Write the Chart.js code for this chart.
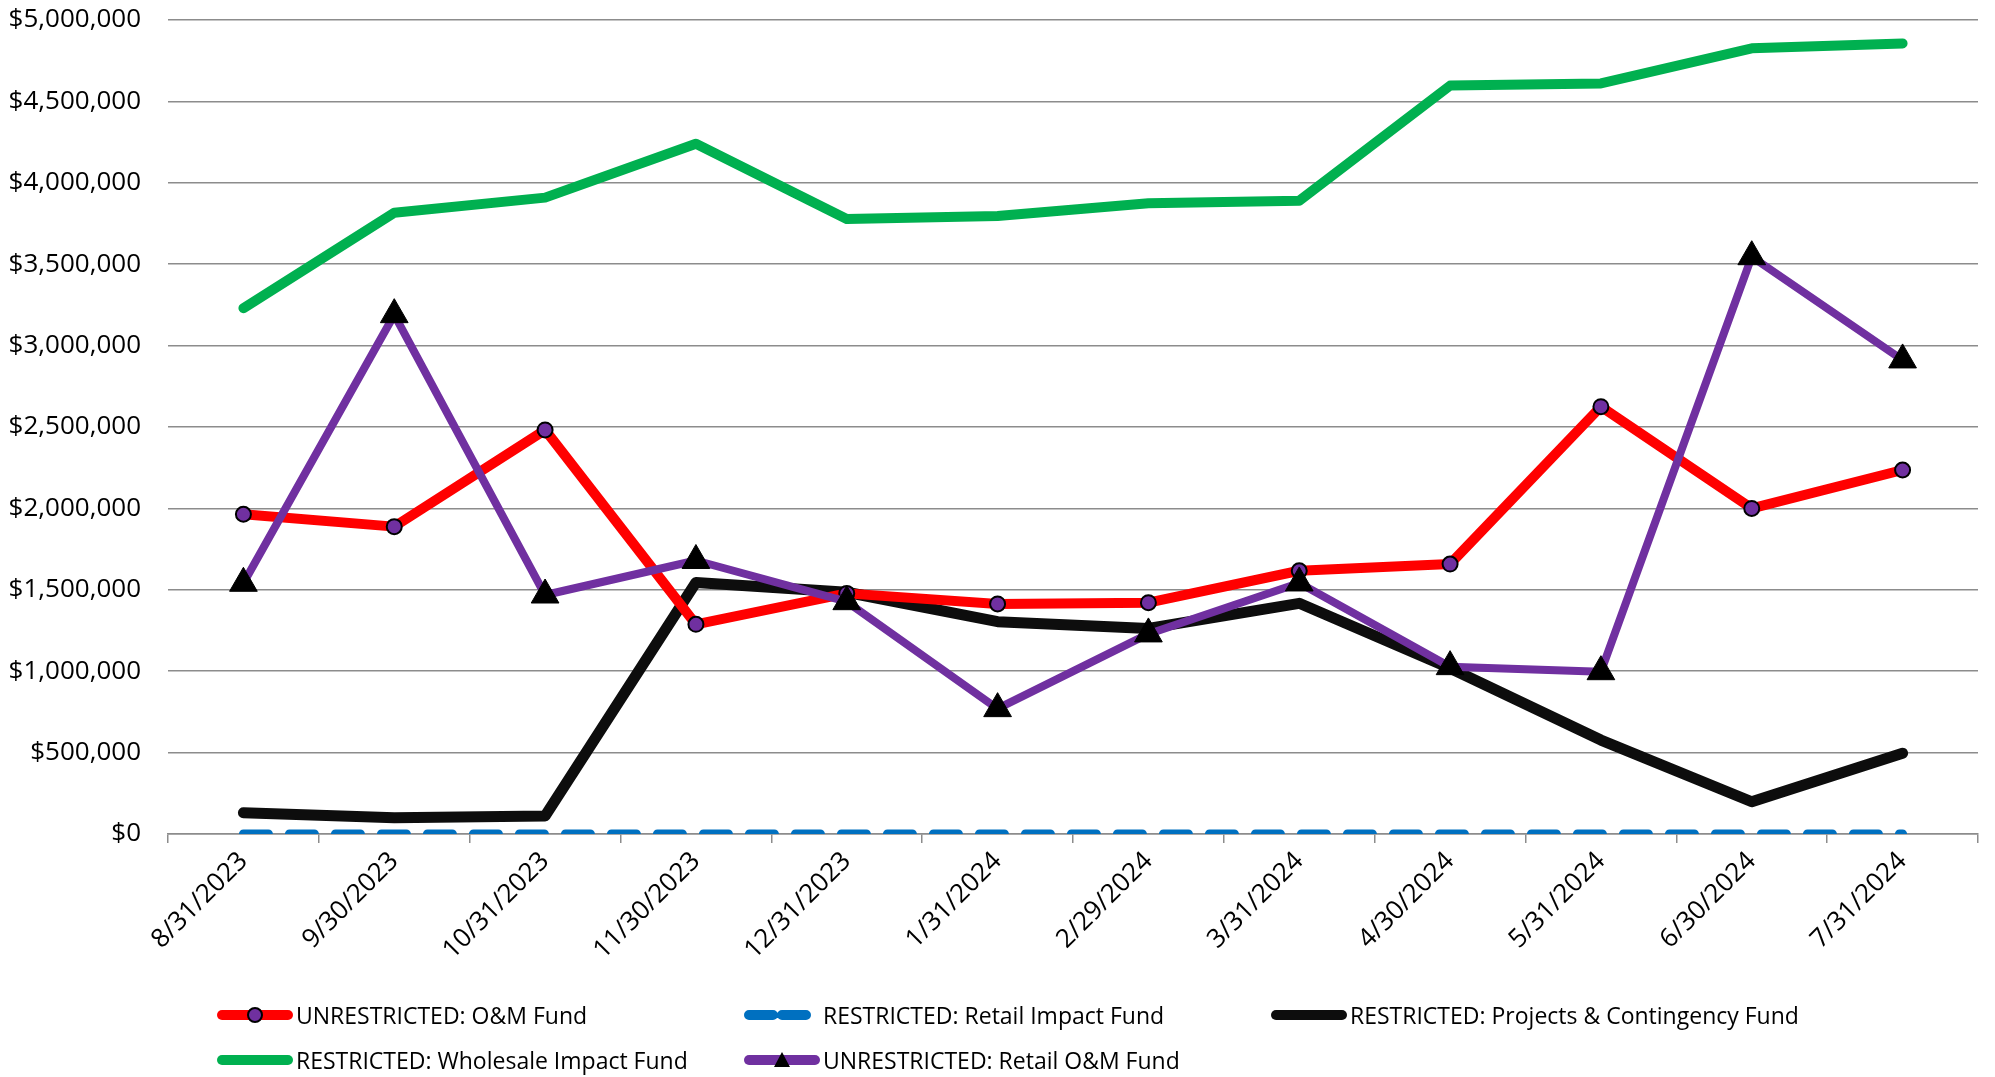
<!DOCTYPE html>
<html>
<head>
<meta charset="utf-8">
<title>Fund Balances</title>
<script src="https://cdn.jsdelivr.net/npm/chart.js@4.4.1/dist/chart.umd.min.js"></script>
<style>
  html, body { margin: 0; padding: 0; background: #fff; }
  #wrap { position: relative; width: 1995px; height: 1077px; }
  #legend {
    position: absolute; left: 217px; top: 992px;
    display: grid; grid-template-columns: 527px 527px 527px; grid-auto-rows: 45px;
    font-family: "Open Sans", sans-serif; font-size: 23px; color: #000;
  }
  .item { display: flex; align-items: center; white-space: nowrap; }
  .item svg { margin-right: 3px; flex: none; }
</style>
</head>
<body>
<div id="wrap">
  <canvas id="chart" width="1995" height="1077"></canvas>
  <div id="legend"></div>
</div>
<script>
const dates = [
  "8/31/2023", "9/30/2023", "10/31/2023", "11/30/2023", "12/31/2023", "1/31/2024",
  "2/29/2024", "3/31/2024", "4/30/2024", "5/31/2024", "6/30/2024", "7/31/2024",
];

// values
const omFund = [1964000, 1888000, 2482000, 1288000, 1478000, 1413000, 1421000, 1617000, 1658000, 2625000, 2000000, 2236000];
const retailImpact = [0, 0, 0, 0, 0, 0, 0, 0, 0, 0, 0, 0];
const projectsFund = [131000, 100000, 110000, 1545000, 1485000, 1304000, 1263000, 1417000, 1018000, 577000, 198000, 496000];
const wholesaleImpact = [3230000, 3816000, 3909000, 4240000, 3778000, 3796000, 3874000, 3890000, 4597000, 4610000, 4826000, 4856000];
const retailOM = [1540000, 3190000, 1468000, 1680000, 1427000, 770000, 1229000, 1542000, 1028000, 997000, 3546000, 2912000];

const yMax = 5000000;
const yStep = 500000;

const seriesNames = [
  "UNRESTRICTED: O&M Fund",
  "RESTRICTED: Retail Impact Fund",
  "RESTRICTED: Projects & Contingency Fund",
  "RESTRICTED: Wholesale Impact Fund",
  "UNRESTRICTED: Retail O&M Fund",
];

const fontFamily = '"Open Sans", sans-serif';
const gridColor = "#8c8c8c";

const datasets = [
  {
    label: seriesNames[0],
    data: omFund,
    borderColor: "#ff0000",
    borderWidth: 10,
    pointStyle: "circle",
    pointRadius: 7.5,
    pointBackgroundColor: "#7030a0",
    pointBorderColor: "#000",
    pointBorderWidth: 2,
    order: 2,
  },
  {
    label: seriesNames[1],
    data: retailImpact,
    borderColor: "#0070c0",
    borderWidth: 9,
    borderDash: [25, 21],
    pointRadius: 0,
    order: 5,
  },
  {
    label: seriesNames[2],
    data: projectsFund,
    borderColor: "#0d0d0d",
    borderWidth: 11,
    pointRadius: 0,
    order: 3,
  },
  {
    label: seriesNames[3],
    data: wholesaleImpact,
    borderColor: "#00b050",
    borderWidth: 10,
    pointRadius: 0,
    order: 4,
  },
  {
    label: seriesNames[4],
    data: retailOM,
    borderColor: "#7030a0",
    borderWidth: 8,
    pointStyle: "triangle",
    pointRadius: 16,
    pointBackgroundColor: "#000",
    pointBorderColor: "#000",
    pointBorderWidth: 1,
    order: 1,
  },
];

datasets.forEach((ds) => {
  ds.fill = false;
  ds.tension = 0;
  ds.borderCapStyle = "round";
  ds.borderJoinStyle = "round";
  ds.pointHoverRadius = ds.pointRadius;
});

new Chart(document.getElementById("chart"), {
  type: "line",
  data: { labels: dates, datasets },
  options: {
    responsive: false,
    animation: false,
    devicePixelRatio: 1,
    layout: { padding: { top: 20, right: 14, bottom: 113, left: 0 } },
    plugins: {
      legend: { display: false },
      tooltip: { enabled: false },
    },
    scales: {
      x: {
        offset: true,
        grid: {
          offset: true,
          drawOnChartArea: false,
          drawTicks: true,
          tickLength: 9,
          color: gridColor,
          lineWidth: 1.5,
        },
        border: { color: gridColor, width: 1.5 },
        ticks: {
          minRotation: 45,
          maxRotation: 45,
          autoSkip: false,
          padding: 3,
          color: "#000",
          font: { family: fontFamily, size: 26 },
        },
        afterFit: (scale) => { scale.height = 130; },
      },
      y: {
        min: 0,
        max: yMax,
        // invisible tick marks give the label gap without padding the top
        grid: { color: gridColor, lineWidth: 1.5, drawTicks: true, tickLength: 25, tickColor: "rgba(0,0,0,0)" },
        border: { display: false },
        ticks: {
          stepSize: yStep,
          padding: 2,
          color: "#000",
          font: { family: fontFamily, size: 26 },
          callback: (v) => "$" + Number(v).toLocaleString("en-US"),
        },
        afterFit: (scale) => { scale.width = 168; },
      },
    },
  },
});

// legend laid out in columns like the original
function sampleSvg(ds) {
  const dash = ds.borderDash ? ` stroke-dasharray="24 9"` : "";
  let marker = "";
  if (ds.pointStyle === "circle") {
    marker = `<circle cx="38" cy="12" r="7" fill="${ds.pointBackgroundColor}" stroke="#000" stroke-width="2"/>`;
  } else if (ds.pointStyle === "triangle") {
    marker = `<polygon points="38,4 46,19 30,19" fill="#000"/>`;
  }
  return `<svg width="76" height="24" viewBox="0 0 76 24">
    <line x1="5" y1="12" x2="71" y2="12" stroke="${ds.borderColor}" stroke-width="10" stroke-linecap="round"${dash}/>
    ${marker}</svg>`;
}

const legendOrder = [0, 1, 2, 3, 4];
document.getElementById("legend").innerHTML = legendOrder
  .map((i) => `<div class="item">${sampleSvg(datasets[i])}<span>${datasets[i].label.replace("&", "&amp;")}</span></div>`)
  .join("");
</script>
</body>
</html>
